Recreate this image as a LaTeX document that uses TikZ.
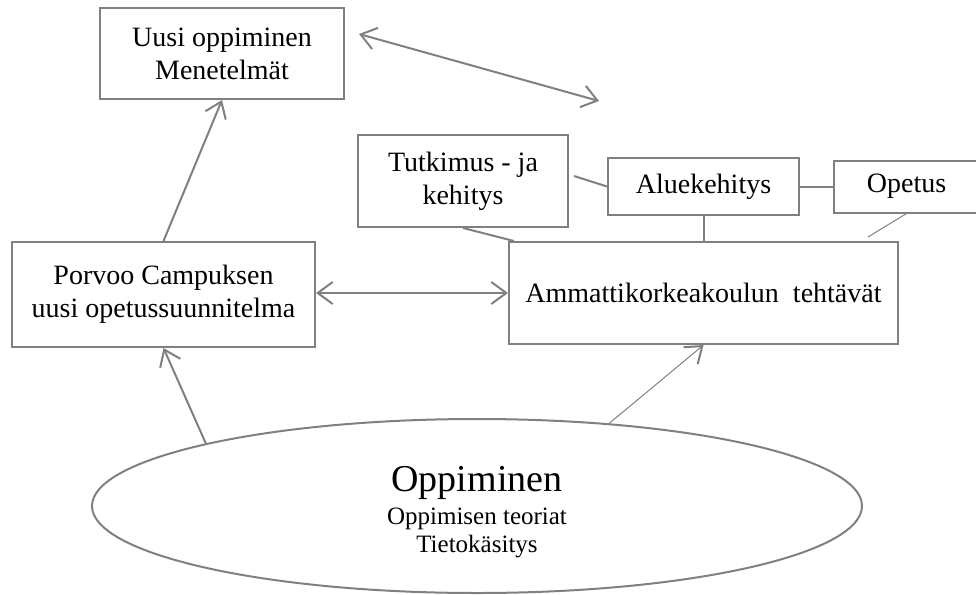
\documentclass[tikz,border=0pt]{standalone}
\usepackage{fontspec}
\setmainfont{Liberation Serif}
\usetikzlibrary{shapes.geometric,positioning,arrows.meta}
\definecolor{framegray}{RGB}{128,128,128}

\begin{document}
\begin{tikzpicture}[x=1pt, y=-1pt, node distance=30pt,
        block/.style={rectangle, draw=framegray, line width=2pt, inner sep=0pt, align=center, font=\fontsize{28}{33}\selectfont},
        line/.style={draw=framegray, line width=2pt},
        thinline/.style={draw=framegray, line width=1pt},
        arrowline/.style={line, -{Straight Barb[length=15pt, width=22pt]}},
        twoway/.style={line, {Straight Barb[length=15pt, width=22pt]}-{Straight Barb[length=15pt, width=22pt]}}]

        \useasboundingbox (0,0) rectangle (976,594);

        \node [block, minimum width=244pt, minimum height=91pt] (uusi) at (222,53.5) {Uusi oppiminen\\Menetelmät};
        \node [block, minimum width=303pt, minimum height=105pt] (porvoo) at (163.5,294.5) {Porvoo Campuksen\\uusi opetussuunnitelma};
        \node [block, minimum width=210pt, minimum height=92pt] (tutk) at (463,181) {Tutkimus - ja\\kehitys};
        \node [block, minimum width=191pt, minimum height=57pt, right=38pt of tutk, yshift=-5.5pt] (alue) {Aluekehitys};
        \node [block, minimum width=145pt, minimum height=52pt, right=33pt of alue] (opetus) {Opetus};
        \node [block, minimum width=389pt, minimum height=102pt] (amk) at (703.5,293) {Ammattikorkeakoulun\ \ tehtävät};
        \node [ellipse, draw=framegray, line width=2pt, inner sep=0pt, minimum width=770pt, minimum height=174pt,
               align=center, font=\fontsize{25}{28}\selectfont] (opp) at (477,506)
              {{\fontsize{38}{38}\selectfont\rule{0pt}{38pt}Oppiminen}\\[5pt]Oppimisen teoriat\\Tietokäsitys};

        \coordinate (ufree) at (599,101);

        \path [arrowline] (porvoo.north) -- (uusi.south);
        \path [arrowline] (opp.167) -- (porvoo.south);
        \path [twoway] (porvoo.east |- amk.west) -- (amk.west);
        \path [twoway] ([shift={(14,-19.5)}]uusi.east) -- (ufree);
        \draw [thinline, -{Straight Barb[length=15pt, width=22pt, line width=2pt]}] (opp.32) -- (amk.south);

        \path [line] ([shift={(5,-5)}]tutk.east) -- (alue.west);
        \path [line] (alue.east) -- (opetus.west);
        \path [line] (alue.south) -- (amk.north);
        \path [line] (tutk.south) -- ([shift={(6,0)}]amk.north west);
        \path [thinline] (opetus.south) -- ([shift={(-31,-4)}]amk.north east);

    \end{tikzpicture}
\end{document}
